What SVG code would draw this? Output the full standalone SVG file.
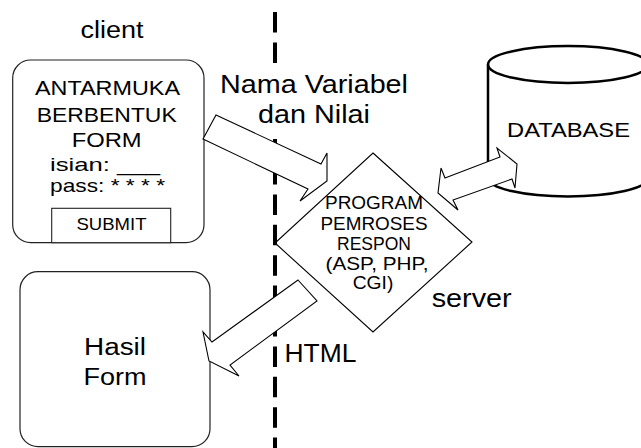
<svg xmlns="http://www.w3.org/2000/svg" width="641" height="448" viewBox="0 0 641 448">
<style>
.t{font-family:"Liberation Sans",Arial,sans-serif;fill:#000;text-anchor:middle}
.box{fill:#fff;stroke:#222;stroke-width:1.2}
.arr{fill:#fff;stroke:#000;stroke-width:1.1;stroke-linejoin:miter}
</style>
<rect width="641" height="448" fill="#fff"/>
<g id="client-label"><text class="t" x="112" y="38.3" font-size="23" textLength="63" lengthAdjust="spacingAndGlyphs">client</text></g>
<g id="form">
<rect class="box" x="12.7" y="60" width="191.3" height="182.7" rx="18" ry="18"/>
<rect x="51.7" y="208.3" width="119" height="34.4" fill="#fff" stroke="#222" stroke-width="1.1"/>
<text class="t" x="107.5" y="95" font-size="21" textLength="145" lengthAdjust="spacingAndGlyphs">ANTARMUKA</text>
<text class="t" x="106.7" y="121.7" font-size="21" textLength="140" lengthAdjust="spacingAndGlyphs">BERBENTUK</text>
<text class="t" x="106.7" y="146.7" font-size="21" textLength="70" lengthAdjust="spacingAndGlyphs">FORM</text>
<text class="t" x="105" y="170.5" font-size="18.5" textLength="110" lengthAdjust="spacingAndGlyphs">isian: ___</text>
<text class="t" x="107.5" y="192" font-size="18.5" textLength="115" lengthAdjust="spacingAndGlyphs">pass: * * * *</text>
<text class="t" x="111.5" y="230" font-size="16.5" textLength="70" lengthAdjust="spacingAndGlyphs">SUBMIT</text>
</g>
<g id="hasil">
<rect class="box" x="20" y="271.7" width="190" height="175" rx="18" ry="18"/>
<text class="t" x="115" y="355" font-size="23.3" textLength="62" lengthAdjust="spacingAndGlyphs">Hasil</text>
<text class="t" x="115" y="385" font-size="23.3" textLength="63" lengthAdjust="spacingAndGlyphs">Form</text>
</g>
<g id="program">
<polygon points="373,153 472,242 373,332 275,243" fill="#fff" stroke="#000" stroke-width="1.1"/>
</g>
<g id="database">
<path d="M488,64.5 A80,18.5 0 0 1 648,64.5 L648,178 A80,18.5 0 0 1 488,178 Z" fill="#fff" stroke="#000" stroke-width="2.5"/>
<path d="M488,64.5 A80,18.5 0 0 0 648,64.5" fill="none" stroke="#000" stroke-width="2.5"/>
<text class="t" x="568.5" y="136.7" font-size="21" textLength="123" lengthAdjust="spacingAndGlyphs">DATABASE</text>
</g>
<g id="boundary">
<line x1="275" y1="12" x2="275" y2="448" stroke="#000" stroke-width="4" stroke-dasharray="20.5 9.9"/>
<rect x="268" y="64" width="14" height="75" fill="#fff"/>
</g>
<g id="connectors">
<polygon class="arr" points="216,115 321,164 327,153 327,181 300,201 308,189 203,139"/>
<polygon class="arr" points="298,280 317,301 230,365 239,376 209,361 203,332 212,342"/>
<polygon class="arr" points="445,178 500,157 497,148 517,164 515,188 512,179 453,200 458,210 438,193 441,168"/>
</g>
<g id="labels">
<text class="t" x="314" y="93.3" font-size="25.5" textLength="188" lengthAdjust="spacingAndGlyphs">Nama Variabel</text>
<text class="t" x="314" y="123.3" font-size="25.5" textLength="112" lengthAdjust="spacingAndGlyphs">dan Nilai</text>
<text class="t" x="374" y="209" font-size="18" textLength="98" lengthAdjust="spacingAndGlyphs">PROGRAM</text>
<text class="t" x="374" y="230" font-size="18" textLength="107" lengthAdjust="spacingAndGlyphs">PEMROSES</text>
<text class="t" x="374" y="250" font-size="18" textLength="74" lengthAdjust="spacingAndGlyphs">RESPON</text>
<text class="t" x="377" y="270" font-size="18" textLength="103" lengthAdjust="spacingAndGlyphs">(ASP, PHP,</text>
<text class="t" x="373" y="289" font-size="18" textLength="40.7" lengthAdjust="spacingAndGlyphs">CGI)</text>
<text class="t" x="471.7" y="306.7" font-size="25.7" textLength="80" lengthAdjust="spacingAndGlyphs">server</text>
<text class="t" x="320.5" y="361.7" font-size="25.7" textLength="72" lengthAdjust="spacingAndGlyphs">HTML</text>
</g>
</svg>
